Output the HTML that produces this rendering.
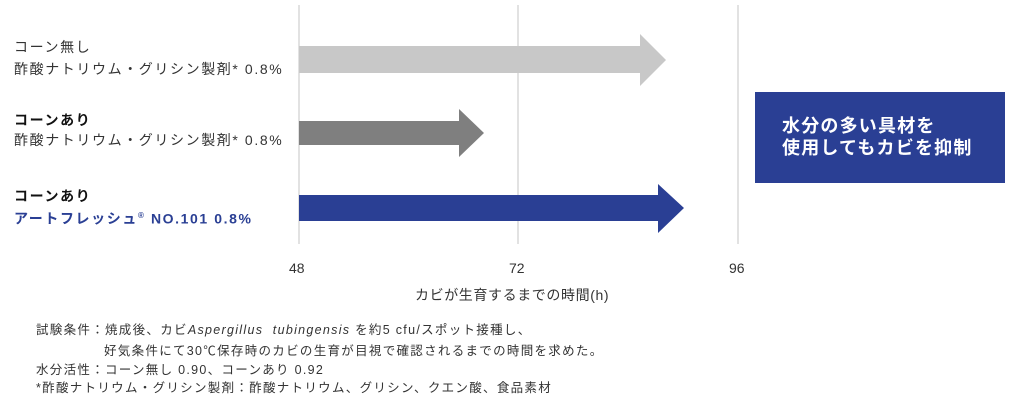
<!DOCTYPE html>
<html><head><meta charset="utf-8"><style>
body{margin:0;width:1018px;height:403px;background:#fff;position:relative;overflow:hidden;font-family:"Liberation Sans","Noto Sans CJK JP",sans-serif;color:#333}
.t{position:absolute;white-space:nowrap;font-size:14px;line-height:20px;letter-spacing:1.6px}
.b{font-weight:bold;color:#111}
.n{position:absolute;left:36px;font-size:12.5px;letter-spacing:1.3px;white-space:nowrap;color:#333}
</style></head><body>
<svg width="1018" height="403" style="position:absolute;left:0;top:0">
<line x1="299" y1="5" x2="299" y2="244" stroke="#d9d9d9" stroke-width="1.5"/>
<line x1="518" y1="5" x2="518" y2="244" stroke="#d9d9d9" stroke-width="1.5"/>
<line x1="738" y1="5" x2="738" y2="244" stroke="#d9d9d9" stroke-width="1.5"/>
<polygon points="299,46 640,46 640,34 666,60 640,86 640,73 299,73" fill="#c8c8c8"/>
<polygon points="299,121 459,121 459,109 484,133 459,157 459,145 299,145" fill="#7f7f7f"/>
<polygon points="299,195 658,195 658,184 684,208 658,233 658,221 299,221" fill="#2a3f94"/>
<rect x="755" y="92" width="250" height="91" fill="#2a3f94"/>
</svg>
<div class="t" style="left:14px;top:37px">コーン無し</div>
<div class="t" style="left:14px;top:59px">酢酸ナトリウム・グリシン製剤* 0.8%</div>
<div class="t b" style="left:14px;top:110px">コーンあり</div>
<div class="t" style="left:14px;top:130px">酢酸ナトリウム・グリシン製剤* 0.8%</div>
<div class="t b" style="left:14px;top:186px">コーンあり</div>
<div class="t b" style="left:14px;top:206px;color:#2a3f94">アートフレッシュ<sup style="font-size:8px">®</sup> NO.101 0.8%</div>
<div style="position:absolute;left:782px;top:115px;color:#fff;font-weight:bold;font-size:18px;letter-spacing:1.2px;line-height:22px">水分の多い具材を<br>使用してもカビを抑制</div>
<div class="t" style="left:289px;top:258px;letter-spacing:0">48</div>
<div class="t" style="left:509px;top:258px;letter-spacing:0">72</div>
<div class="t" style="left:729px;top:258px;letter-spacing:0">96</div>
<div class="t" style="left:415px;top:285px;letter-spacing:0.6px">カビが生育するまでの時間(h)</div>
<div class="n" style="top:319px">試験条件：焼成後、カビ<i>Aspergillus&nbsp; tubingensis</i> を約5 cfu/スポット接種し、</div>
<div class="n" style="left:104px;top:340px">好気条件にて30℃保存時のカビの生育が目視で確認されるまでの時間を求めた。</div>
<div class="n" style="top:359px">水分活性：コーン無し 0.90、コーンあり 0.92</div>
<div class="n" style="top:377px">*酢酸ナトリウム・グリシン製剤：酢酸ナトリウム、グリシン、クエン酸、食品素材</div>
</body></html>
